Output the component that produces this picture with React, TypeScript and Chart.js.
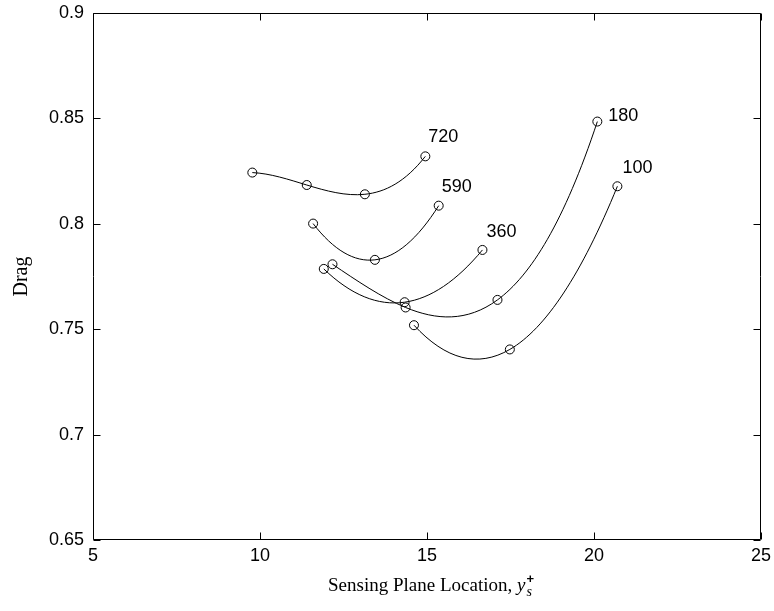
import { useEffect, useRef } from "react";
import { Chart, registerables } from "chart.js";

Chart.register(...registerables);

// Axis ticks
const xTickValues = [5, 10, 15, 20, 25];
const xTickLabels = ["5", "10", "15", "20", "25"];
const yTickValues = [0.65, 0.7, 0.75, 0.8, 0.85, 0.9];
const yTickLabels = ["0.65", "0.7", "0.75", "0.8", "0.85", "0.9"];

// One curve per case, labelled at its last point
const curveLabels = ["720", "590", "360", "180", "100"];

const location720 = [9.77, 11.4, 13.14, 14.95];
const drag720 = [0.8243, 0.8184, 0.814, 0.832];

const location590 = [11.59, 13.44, 15.35];
const drag590 = [0.8001, 0.7829, 0.8086];

const location360 = [11.91, 14.33, 16.66];
const drag360 = [0.7786, 0.7628, 0.7876];

const location180 = [12.17, 14.36, 17.11, 20.1];
const drag180 = [0.7808, 0.7603, 0.7639, 0.8485];

const location100 = [14.61, 17.48, 20.7];
const drag100 = [0.7519, 0.7404, 0.8178];

const curveLocations = [location720, location590, location360, location180, location100];
const curveDrags = [drag720, drag590, drag360, drag180, drag100];

// Label placement relative to the last marker (pixels: dx, baseline dy)
const labelOffsets: [number, number][] = [
  [3, -14],
  [3, -14],
  [4, -13],
  [11, -1],
  [5, -13],
];

const SANS = "'Liberation Sans', Arial, Helvetica, sans-serif";
const SERIF = "'Liberation Serif', 'Times New Roman', serif";

// Slope of the interpolating polynomial at each node
function nodeSlopes(xs: number[], ys: number[]): number[] {
  const n = xs.length;
  return xs.map((xi, i) => {
    let s = 0;
    for (let j = 0; j < n; j++) {
      if (j === i) {
        let sum = 0;
        for (let k = 0; k < n; k++) if (k !== i) sum += 1 / (xi - xs[k]);
        s += ys[i] * sum;
      } else {
        let num = 1;
        let den = 1;
        for (let k = 0; k < n; k++) {
          if (k !== j) den *= xs[j] - xs[k];
          if (k !== i && k !== j) num *= xi - xs[k];
        }
        s += (ys[j] * num) / den;
      }
    }
    return s;
  });
}

// Replace the default bezier handles with ones that follow the polynomial through the markers
const polyCurvePlugin = {
  id: "polyCurve",
  beforeDatasetDraw(chart: any, args: any) {
    const meta = chart.getDatasetMeta(args.index);
    const line = meta.dataset;
    const pts = meta.data;
    if (!line || !pts || pts.length < 2) return;
    if (typeof line.updateControlPoints === "function") {
      line.updateControlPoints(chart.chartArea, "x");
    }
    line._pointsUpdated = true;
    const xs = pts.map((p: any) => p.x);
    const ys = pts.map((p: any) => p.y);
    const m = nodeSlopes(xs, ys);
    pts.forEach((p: any, i: number) => {
      const hPrev = i > 0 ? xs[i] - xs[i - 1] : 0;
      const hNext = i < pts.length - 1 ? xs[i + 1] - xs[i] : 0;
      p.cp1x = xs[i] - hPrev / 3;
      p.cp1y = ys[i] - (m[i] * hPrev) / 3;
      p.cp2x = xs[i] + hNext / 3;
      p.cp2y = ys[i] + (m[i] * hNext) / 3;
    });
    line._path = undefined;
  },
};

// Box, inward ticks, curve labels and axis titles
const decorPlugin = {
  id: "decor",
  afterDraw(chart: any) {
    const { ctx, chartArea: a, scales } = chart;
    const xs = scales.x;
    const ys = scales.y;
    const L = Math.round(a.left) + 0.5;
    const R = Math.round(a.right) - 0.5;
    const T = Math.round(a.top) + 0.5;
    const B = Math.round(a.bottom) - 0.5;
    const tick = 7;
    ctx.save();
    ctx.strokeStyle = "#000";
    ctx.lineWidth = 1;
    ctx.beginPath();
    ctx.rect(L, T, R - L, B - T);
    xTickValues.forEach((v) => {
      const px = Math.round(xs.getPixelForValue(v)) + 0.5;
      ctx.moveTo(px, B);
      ctx.lineTo(px, B - tick);
      ctx.moveTo(px, T);
      ctx.lineTo(px, T + tick);
    });
    yTickValues.forEach((v) => {
      const py = Math.round(ys.getPixelForValue(v)) + 0.5;
      ctx.moveTo(L, py);
      ctx.lineTo(L + tick, py);
      ctx.moveTo(R, py);
      ctx.lineTo(R - tick, py);
    });
    ctx.stroke();

    // curve labels
    ctx.fillStyle = "#000";
    ctx.font = `18px ${SANS}`;
    ctx.textAlign = "left";
    ctx.textBaseline = "alphabetic";
    curveLabels.forEach((label, i) => {
      const locs = curveLocations[i];
      const drags = curveDrags[i];
      const n = locs.length - 1;
      const px = xs.getPixelForValue(locs[n]);
      const py = ys.getPixelForValue(drags[n]);
      ctx.fillText(label, px + labelOffsets[i][0], py + labelOffsets[i][1]);
    });

    // x title: Sensing Plane Location, y_s^+
    const main = "Sensing Plane Location, ";
    const fMain = `19px ${SERIF}`;
    const fVar = `italic 19px ${SERIF}`;
    const fSub = `italic 14px ${SERIF}`;
    const fSup = `bold 13px ${SANS}`;
    ctx.font = fMain;
    const wMain = ctx.measureText(main).width;
    ctx.font = fVar;
    const wVar = ctx.measureText("y").width;
    ctx.font = fSub;
    const wSub = ctx.measureText("s").width;
    ctx.font = fSup;
    const wSup = ctx.measureText("+").width;
    const total = wMain + wVar + Math.max(wSub, wSup) + 1;
    const cx = (a.left + a.right) / 2 + 4;
    let x0 = cx - total / 2;
    const base = 591;
    ctx.font = fMain;
    ctx.fillText(main, x0, base);
    x0 += wMain;
    ctx.font = fVar;
    ctx.fillText("y", x0, base);
    x0 += wVar + 1;
    ctx.font = fSup;
    ctx.fillText("+", x0, base - 8);
    ctx.font = fSub;
    ctx.fillText("s", x0, base + 5);

    // y title
    ctx.save();
    ctx.translate(27, (a.top + a.bottom) / 2);
    ctx.rotate(-Math.PI / 2);
    ctx.font = `20px ${SERIF}`;
    ctx.textAlign = "center";
    ctx.textBaseline = "alphabetic";
    ctx.fillText("Drag", 0, 0);
    ctx.restore();

    ctx.restore();
  },
};

export default function App() {
  const canvasRef = useRef<HTMLCanvasElement | null>(null);

  useEffect(() => {
    const canvas = canvasRef.current;
    if (!canvas) return;

    const datasets = curveLabels.map((label, i) => ({
      label,
      data: curveLocations[i].map((x, k) => ({ x, y: curveDrags[i][k] })),
      borderColor: "#000",
      borderWidth: 1,
      tension: 0.4,
      fill: false,
      pointStyle: "circle" as const,
      pointRadius: 4.5,
      pointBorderWidth: 1,
      pointBorderColor: "#000",
      pointBackgroundColor: "rgba(0,0,0,0)",
    }));

    const chart = new Chart(canvas, {
      type: "line",
      data: { datasets },
      options: {
        responsive: false,
        animation: false,
        events: [],
        layout: { padding: { left: 0, right: 13, top: 13, bottom: 0 } },
        plugins: {
          legend: { display: false },
          tooltip: { enabled: false },
        },
        scales: {
          x: {
            type: "linear",
            min: 5,
            max: 25,
            grid: { display: false, drawTicks: false },
            border: { display: false },
            afterBuildTicks: (scale: any) => {
              scale.ticks = xTickValues.map((value) => ({ value }));
            },
            afterFit: (scale: any) => {
              scale.height = 71;
              scale.paddingLeft = 0;
              scale.paddingRight = 0;
            },
            ticks: {
              color: "#000",
              padding: 5,
              maxRotation: 0,
              autoSkip: false,
              font: { family: SANS, size: 18 },
              callback: (_v: any, index: number) => xTickLabels[index],
            },
          },
          y: {
            type: "linear",
            min: 0.65,
            max: 0.9,
            grid: { display: false, drawTicks: false },
            border: { display: false },
            afterBuildTicks: (scale: any) => {
              scale.ticks = yTickValues.map((value) => ({ value }));
            },
            afterFit: (scale: any) => {
              scale.width = 93;
              scale.paddingTop = 0;
              scale.paddingBottom = 0;
            },
            ticks: {
              color: "#000",
              padding: 9,
              autoSkip: false,
              font: { family: SANS, size: 18 },
              callback: (_v: any, index: number) => yTickLabels[index],
            },
          },
        },
      },
      plugins: [polyCurvePlugin, decorPlugin],
    });

    return () => chart.destroy();
  }, []);

  return (
    <div
      style={{
        position: "fixed",
        left: 0,
        top: 0,
        width: 774,
        height: 611,
        background: "#fff",
      }}
    >
      <canvas ref={canvasRef} width={774} height={611} style={{ display: "block" }} />
    </div>
  );
}
